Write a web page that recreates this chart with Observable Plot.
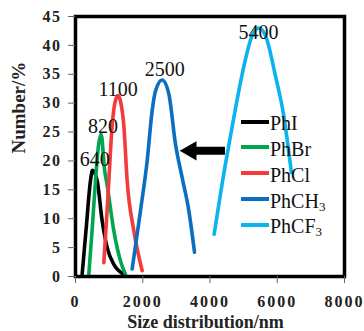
<!DOCTYPE html>
<html>
<head>
<meta charset="utf-8">
<script src="https://cdn.jsdelivr.net/npm/d3@7"></script>
<script src="https://cdn.jsdelivr.net/npm/@observablehq/plot@0.6"></script>
<style>
  html, body { margin: 0; padding: 0; background: #fff; }
  #wrap { position: relative; width: 364px; height: 331px; overflow: hidden; }
  #wrap svg { display: block; }
  [aria-label="x-axis tick label"] text { letter-spacing: 2px; }
  [aria-label="y-axis tick label"] text { letter-spacing: 1.5px; }
  [aria-label="x title"] text { letter-spacing: 0.5px; }
  [aria-label="y title"] text { letter-spacing: 1.1px; }
  .leg { position: absolute; font-family: "Liberation Serif", "Times New Roman", serif; font-size: 20px; line-height: 20px; white-space: nowrap; color: #111; }
  .leg .sw { position: absolute; width: 28px; height: 4px; }
  .leg sub { font-size: 13px; vertical-align: -3px; line-height: 0; }
</style>
</head>
<body>
<div id="wrap"></div>
<script>
// ---- data ----
const seriesNames = ["PhI", "PhBr", "PhCl", "PhCH3", "PhCF3"];
const seriesLegend = ["PhI", "PhBr", "PhCl", "PhCH<sub>3</sub>", "PhCF<sub>3</sub>"];
const seriesColors = ["#000000", "#00a651", "#f43a3a", "#0a6fc0", "#0ab4ee"];

const phIX = [198, 320, 446, 505, 644, 794, 942, 1140, 1437];
const phIY = [0.4, 8.5, 16.6, 18.4, 16.6, 9.6, 5.0, 2.1, 0.4];

const phBrX = [396, 500, 595, 680, 764, 862, 942, 1140, 1338, 1487];
const phBrY = [0.4, 8.5, 16.6, 22.5, 24.6, 18.6, 15.8, 7.9, 2.7, 0.4];

const phClX = [842, 920, 991, 1091, 1190, 1270, 1350, 1437, 1536, 1735, 1983];
const phClY = [2.4, 9.5, 16.6, 26.1, 30.5, 31.3, 30.0, 26.1, 16.6, 7.9, 1.0];

const phCH3X = [1685, 1933, 2131, 2280, 2379, 2577, 2775, 2974, 3172, 3370, 3539];
const phCH3Y = [1.3, 11.4, 20.0, 28.7, 32.1, 34.0, 31.6, 22.9, 17.1, 11.4, 4.2];

const phCF3X = [4123, 4460, 4708, 4956, 5254, 5450, 5650, 5947, 6194, 6420];
const phCF3Y = [7.3, 19.5, 27.5, 35.0, 41.7, 43.0, 41.7, 34.7, 27.8, 18.0];

const peakLabels = ["640", "820", "1100", "2500", "5400"];
const peakLabelX = [571, 818, 1264, 2652, 5441];
const peakLabelY = [19.2, 24.9, 31.3, 34.7, 41.1];

const xTicks = [0, 2000, 4000, 6000, 8000];
const yTicks = [0, 5, 10, 15, 20, 25, 30, 35, 40, 45];

const arrowFromX = [4460];
const arrowHeadX = [3432];
const arrowY = [21.75];

const xTitle = "Size distribution/nm";
const yTitle = "Number/%";

// ---- build tables ----
const allX = [phIX, phBrX, phClX, phCH3X, phCF3X];
const allY = [phIY, phBrY, phClY, phCH3Y, phCF3Y];
const rows = seriesNames.flatMap((s, i) => allX[i].map((x, j) => ({s, x, y: allY[i][j]})));
const labels = peakLabels.map((t, i) => ({t, x: peakLabelX[i], y: peakLabelY[i]}));
const arrows = arrowFromX.map((x1, i) => ({x1, x2: arrowHeadX[i], y: arrowY[i]}));

const serif = '"Liberation Serif", "Times New Roman", serif';

const chart = Plot.plot({
  width: 364,
  height: 331,
  marginLeft: 75,
  marginRight: 20,
  marginTop: 16,
  marginBottom: 55,
  style: {fontFamily: serif, background: "white", color: "#111"},
  x: {domain: [0, 8000]},
  y: {domain: [0, 45]},
  color: {domain: seriesNames, range: seriesColors},
  marks: [
    Plot.line(rows, {x: "x", y: "y", z: "s", stroke: "s", strokeWidth: 3.6, curve: "monotone-x"}),
    Plot.ruleY(arrows, {x1: "x1", x2: "x2", y: "y", stroke: "black", strokeWidth: 8}),
    Plot.dot(arrows, {x: "x2", y: "y", symbol: "triangle", r: 7.2, fill: "black", stroke: "none", rotate: -90}),
    Plot.text(labels, {x: "x", y: "y", text: "t", fontSize: 20, lineAnchor: "bottom", textAnchor: "middle", fill: "#111"}),
    Plot.frame({stroke: "black", strokeWidth: 3.5}),
    Plot.axisY({ticks: yTicks, tickSize: 7, tickPadding: 7, tickFormat: d => String(d), fontSize: 16, fontWeight: "bold", stroke: "#666", fill: "#222", label: null}),
    Plot.axisX({ticks: xTicks, tickSize: 7, tickPadding: 12.5, tickFormat: d => String(d), fontSize: 16, fontWeight: "bold", stroke: "#666", fill: "#222", label: null, textStroke: "none"}),
    Plot.text([yTitle], {frameAnchor: "left", dx: -57, dy: 7, rotate: -90, fontSize: 19, fontWeight: "bold", fill: "#222", text: d => d, ariaLabel: "y title"}),
    Plot.text([xTitle], {frameAnchor: "bottom", dx: -4.5, dy: 51, lineAnchor: "bottom", fontSize: 18, fontWeight: "bold", fill: "#222", text: d => d, ariaLabel: "x title"})
  ]
});

const wrap = document.getElementById("wrap");
wrap.appendChild(chart);

// legend overlay inside the plot
seriesNames.forEach((s, i) => {
  const yc = 121.7 + i * 25.8;
  const item = document.createElement("div");
  item.className = "leg";
  item.style.left = "241px";
  item.style.top = (yc - 8.45) + "px";
  const sw = document.createElement("span");
  sw.className = "sw";
  sw.style.background = seriesColors[i];
  sw.style.left = "0px";
  sw.style.top = (8.45 - 2) + "px";
  item.appendChild(sw);
  const tx = document.createElement("span");
  tx.style.marginLeft = "29px";
  tx.innerHTML = seriesLegend[i];
  item.appendChild(tx);
  wrap.appendChild(item);
});
</script>
</body>
</html>
